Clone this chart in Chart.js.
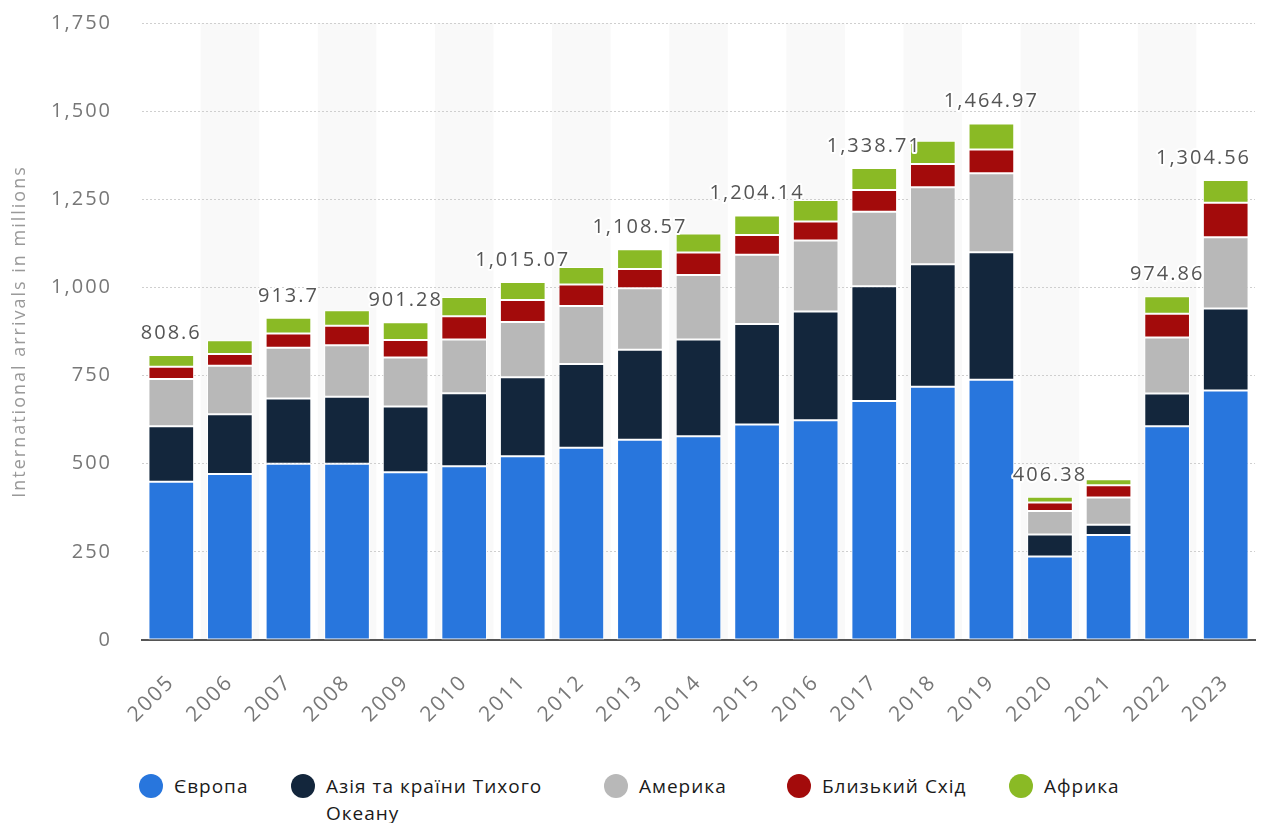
<!DOCTYPE html>
<html lang="uk">
<head>
    <meta charset="UTF-8">
    <title>International arrivals</title>
    <style>
        body { margin: 0; background: #fff; font-family: "Open Sans", sans-serif; }
        #wrap { position: relative; width: 1267px; height: 823px; }
        #legend { position: absolute; left: 138px; top: 773px; display: flex; align-items: flex-start; }
        .item { display: flex; align-items: flex-start; font-size: 19px; font-weight: 500; line-height: 27px; color: #1a1a1a; letter-spacing: 1px; }
        .dot { width: 24px; height: 24px; border-radius: 50%; margin: 1px 11px 0 1px; flex: none; }
    </style>
</head>
<body>
<div id="wrap">
    <canvas id="chart" width="1267" height="760"></canvas>
    <div id="legend"></div>
</div>
<script src="https://cdn.jsdelivr.net/npm/chart.js"></script>
<script>
    const years = ['2005', '2006', '2007', '2008', '2009', '2010', '2011', '2012', '2013', '2014',
                   '2015', '2016', '2017', '2018', '2019', '2020', '2021', '2022', '2023'];

    // millions of arrivals
    const europe   = [449, 471, 500, 500, 476, 493, 521, 545, 568, 578, 611, 623, 678, 718, 738, 237, 298, 606, 708];
    const asia     = [157, 169, 185, 190, 186, 207, 224, 238, 255, 274, 285, 309, 325, 348, 362, 62, 29, 93, 232];
    const americas = [134, 138, 144, 146, 139, 152, 157, 164, 175, 183, 197, 201, 212, 218, 224, 67, 77, 159, 202];
    const midEast  = [35, 33, 40, 55, 50, 66, 62, 61, 54, 64, 56, 54, 61, 66, 67, 24, 35, 67, 98];
    const africa   = [33.6, 39, 44.7, 44, 50.28, 55, 51.07, 50, 56.57, 54, 55.14, 61, 62.71, 66, 73.97, 16.38, 17, 49.86, 64.56];

    // totals printed above some bars
    const totalLabels = ['808.6', null, '913.7', null, '901.28', null, '1,015.07', null, '1,108.57', null,
                         '1,204.14', null, '1,338.71', null, '1,464.97', '406.38', null, '974.86', '1,304.56'];

    const seriesNames = ['Європа', 'Азія та країни Тихого Океану', 'Америка', 'Близький Схід', 'Африка'];
    const seriesColors = ['#2876dd', '#13263c', '#b8b8b8', '#a30b0b', '#8aba25'];
    const seriesData = [europe, asia, americas, midEast, africa];

    const FONT = '"Open Sans", sans-serif';

    const bands = {
        id: 'bands',
        beforeDraw(chart) {
            const ctx = chart.ctx, area = chart.chartArea, x = chart.scales.x;
            const w = (area.right - area.left) / years.length;
            ctx.save();
            ctx.fillStyle = '#f9f9f9';
            for (let i = 1; i < years.length; i += 2) {
                const cx = x.getPixelForValue(i);
                ctx.fillRect(cx - w / 2, area.top, w, area.bottom - area.top);
            }
            ctx.restore();
            ctx.letterSpacing = '2px';
        }
    };

    const totals = {
        id: 'totals',
        afterDatasetsDraw(chart) {
            const ctx = chart.ctx, area = chart.chartArea;
            const x = chart.scales.x, y = chart.scales.y;
            ctx.save();
            ctx.font = '20px ' + FONT;
            ctx.letterSpacing = '2px';
            ctx.textAlign = 'center';
            ctx.textBaseline = 'alphabetic';
            ctx.lineJoin = 'round';
            totalLabels.forEach((txt, i) => {
                if (!txt) return;
                let sum = 0;
                seriesData.forEach(s => { sum += s[i]; });
                const w = ctx.measureText(txt).width;
                let px = x.getPixelForValue(i);
                if (px + w / 2 > area.right - 4) px = area.right - 4 - w / 2;
                const py = y.getPixelForValue(sum) - 16;
                ctx.strokeStyle = '#fff';
                ctx.lineWidth = 4;
                ctx.strokeText(txt, px, py);
                ctx.fillStyle = '#555';
                ctx.fillText(txt, px, py);
            });
            ctx.restore();
        }
    };

    new Chart(document.getElementById('chart'), {
        type: 'bar',
        data: {
            labels: years,
            datasets: seriesNames.map((name, k) => ({
                label: name,
                data: seriesData[k],
                backgroundColor: seriesColors[k],
                borderColor: '#fff',
                borderWidth: 1,
                borderSkipped: false,
                categoryPercentage: 1,
                barPercentage: 0.78
            }))
        },
        options: {
            responsive: false,
            animation: false,
            layout: { padding: { top: 23, right: 12, left: 0, bottom: 0 } },
            plugins: { legend: { display: false }, tooltip: { enabled: false } },
            scales: {
                x: {
                    stacked: true,
                    grid: { display: false, drawTicks: false },
                    border: { display: true, color: '#555', width: 2 },
                    ticks: { color: '#777', font: { size: 21, family: FONT }, minRotation: 45, maxRotation: 45, padding: 30 },
                    afterFit(s) {
                        s.height = 120;
                        s.paddingLeft = 0;
                        s.paddingRight = 0;
                    }
                },
                y: {
                    stacked: true,
                    min: 0,
                    max: 1750,
                    ticks: { stepSize: 250, color: '#777', font: { size: 20, family: FONT }, padding: 30 },
                    grid: { color: '#cfcfcf', drawTicks: false, lineWidth: 1 },
                    border: { display: false, dash: [2, 2] },
                    title: { display: true, text: 'International arrivals in millions', color: '#999',
                             font: { size: 18, family: FONT }, padding: { top: 9 } },
                    afterFit(s) {
                        s.width = 142;
                        // tick padding would otherwise push the plot area down
                        s.paddingTop = 12;
                        s.paddingBottom = 12;
                    }
                }
            }
        },
        plugins: [bands, totals]
    });

    const legend = document.getElementById('legend');
    const itemWidths = [152, 313, 183, 222, 150];
    seriesNames.forEach((name, k) => {
        const item = document.createElement('div');
        item.className = 'item';
        item.style.width = itemWidths[k] + 'px';
        const dot = document.createElement('span');
        dot.className = 'dot';
        dot.style.background = seriesColors[k];
        const label = document.createElement('span');
        label.textContent = name;
        if (k === 1) label.style.maxWidth = '235px';
        item.appendChild(dot);
        item.appendChild(label);
        legend.appendChild(item);
    });
</script>
</body>
</html>
